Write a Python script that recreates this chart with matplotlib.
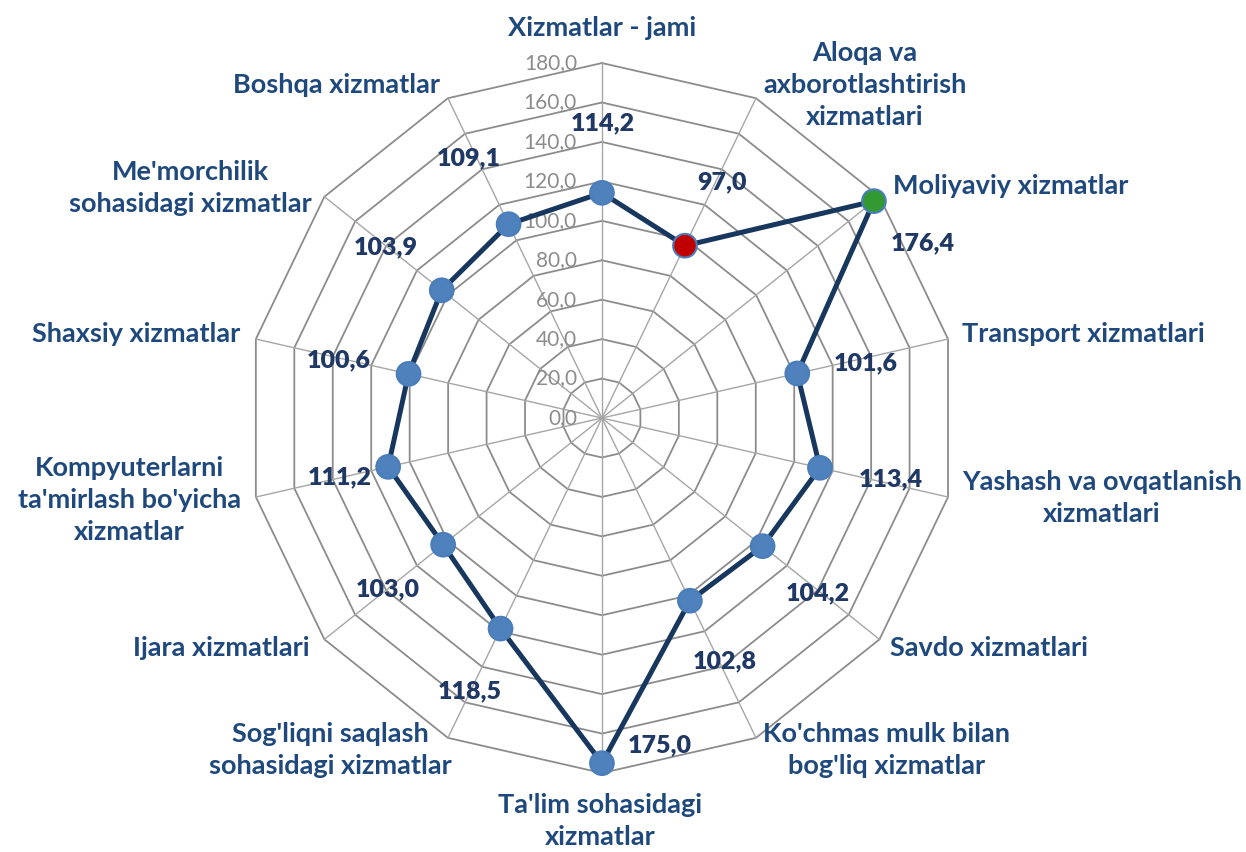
import numpy as np
import matplotlib.pyplot as plt

plt.rcParams['font.family'] = ['Lato', 'DejaVu Sans']

categories = [
    "Xizmatlar - jami",
    "Aloqa va\naxborotlashtirish\nxizmatlari",
    "Moliyaviy xizmatlar",
    "Transport xizmatlari",
    "Yashash va ovqatlanish\nxizmatlari",
    "Savdo xizmatlari",
    "Ko'chmas mulk bilan\nbog'liq xizmatlar",
    "Ta'lim sohasidagi\nxizmatlar",
    "Sog'liqni saqlash\nsohasidagi xizmatlar",
    "Ijara xizmatlari",
    "Kompyuterlarni\nta'mirlash bo'yicha\nxizmatlar",
    "Shaxsiy xizmatlar",
    "Me'morchilik\nsohasidagi xizmatlar",
    "Boshqa xizmatlar",
]
values = [114.2, 97.0, 176.4, 101.6, 113.4, 104.2, 102.8,
          175.0, 118.5, 103.0, 111.2, 100.6, 103.9, 109.1]
ticks = [0, 20, 40, 60, 80, 100, 120, 140, 160, 180]
point_colors = ['#4f81bd', '#c00000', '#339933'] + ['#4f81bd'] * 11

# label placement (pixels, y up)
cat_pos = [('center', 0, 35), ('center', 109, 13), ('left', 14, 11),
           ('left', 14, 5), ('left', 14, -1), ('left', 11, -9),
           ('center', 131, -12), ('center', -2, -48), ('center', -118, -12),
           ('right', -15, -9), ('right', -15, -3), ('right', -16, 5),
           ('right', -13, 9), ('right', -8, 13)]
val_off = [(1, 70), (37, 63), (49, -42), (68, 10), (71, -12), (55, -47),
           (35, -61), (58, 18), (-31, -63), (-55, -45), (-48, -10),
           (-70, 14), (-56, 43), (-40, 66)]

n = len(categories)
theta = np.arange(n) * 2 * np.pi / n
theta_c = np.append(theta, theta[0])

fig = plt.figure(figsize=(12.46, 8.52), dpi=100)
ax = fig.add_axes([0.1982, 0.0927, 0.5698, 0.8333], projection='polar')
ax.set_theta_zero_location('N')
ax.set_theta_direction(-1)
ax.set_ylim(0, 180)
ax.set_axis_off()

# grid
for r in ticks[1:]:
    ax.plot(theta_c, [r] * (n + 1), color='#8c8c8c', lw=1.3, clip_on=False, zorder=1)
for t in theta:
    ax.plot([t, t], [0, 180], color='#a6a6a6', lw=1.0, clip_on=False, zorder=1)

for r in ticks:
    ax.annotate(f"{r:.1f}".replace('.', ','), xy=(0, r), xytext=(-25, 0),
                textcoords='offset pixels', ha='right', va='center',
                fontsize=15, color='#8c8c8c', annotation_clip=False)

# series
ax.plot(theta_c, np.append(values, values[0]), color='#17375e', lw=3.6, zorder=3)
ax.scatter(theta, values, s=17 ** 2, c=point_colors, edgecolors='#4a7ebb',
           linewidths=1.5, zorder=4, clip_on=False)

for t, v, (dx, dy) in zip(theta, values, val_off):
    ax.annotate(f"{v:.1f}".replace('.', ','), xy=(t, v), xytext=(dx, dy),
                textcoords='offset pixels', ha='center', va='center',
                fontsize=18, fontweight='heavy', color='#1f3864',
                annotation_clip=False, zorder=5)

for t, lab, (ha, dx, dy) in zip(theta, categories, cat_pos):
    ax.annotate(lab, xy=(t, 180), xytext=(dx, dy), textcoords='offset pixels',
                ha=ha, va='center', multialignment='center', linespacing=1.4,
                fontsize=19.5, fontweight='bold', color='#1f497d',
                annotation_clip=False)

fig.savefig('out.png', dpi=100)
